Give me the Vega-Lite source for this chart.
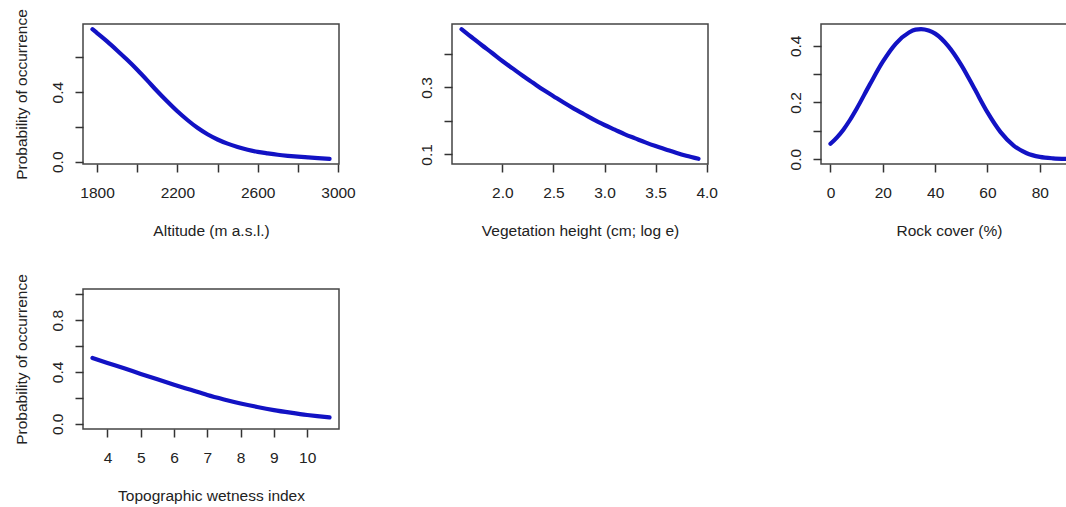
{
  "$schema": "https://vega.github.io/schema/vega-lite/v6.json",
  "background": "white",
  "padding": {"left": 13, "top": 7, "right": 0, "bottom": 0},
  "bounds": "flush",
  "columns": 3,
  "spacing": {"row": 125, "column": 113},
  "config": {
    "font": "Liberation Sans",
    "view": {"stroke": "#444444", "strokeWidth": 1.5},
    "axis": {
      "domain": false,
      "grid": false,
      "ticks": true,
      "tickSize": 8,
      "tickWidth": 1.5,
      "tickColor": "#333333",
      "labelFont": "Liberation Sans",
      "labelFontSize": 15.5,
      "labelColor": "#222222",
      "labelFlush": false,
      "labelOverlap": false,
      "titleFont": "Liberation Sans",
      "titleFontSize": 15.5,
      "titleFontWeight": "normal",
      "titleColor": "#222222"
    },
    "axisX": {"labelPadding": 13, "titlePadding": 23},
    "axisY": {"labelAngle": -90, "labelAlign": "center", "labelBaseline": "bottom", "labelPadding": 10, "titlePadding": 21},
    "line": {"color": "#1212c4", "strokeWidth": 4.2, "strokeCap": "round", "strokeJoin": "round", "interpolate": "monotone"}
  },
  "datasets": {
    "altitude": [
      {"x": 1777, "p": 0.762}, {"x": 1800, "p": 0.740}, {"x": 1850, "p": 0.692},
      {"x": 1900, "p": 0.640}, {"x": 1950, "p": 0.586}, {"x": 2000, "p": 0.529},
      {"x": 2050, "p": 0.468}, {"x": 2100, "p": 0.405}, {"x": 2150, "p": 0.346},
      {"x": 2200, "p": 0.290}, {"x": 2250, "p": 0.240}, {"x": 2300, "p": 0.195},
      {"x": 2350, "p": 0.158}, {"x": 2400, "p": 0.128}, {"x": 2450, "p": 0.104},
      {"x": 2500, "p": 0.085}, {"x": 2550, "p": 0.069}, {"x": 2600, "p": 0.057},
      {"x": 2650, "p": 0.048}, {"x": 2700, "p": 0.040}, {"x": 2750, "p": 0.034},
      {"x": 2800, "p": 0.029}, {"x": 2850, "p": 0.025}, {"x": 2900, "p": 0.021},
      {"x": 2958, "p": 0.017}
    ],
    "vegetation": [
      {"x": 1.6, "p": 0.474}, {"x": 1.7, "p": 0.450}, {"x": 1.8, "p": 0.426},
      {"x": 1.9, "p": 0.403}, {"x": 2.0, "p": 0.379}, {"x": 2.1, "p": 0.357},
      {"x": 2.2, "p": 0.335}, {"x": 2.3, "p": 0.314}, {"x": 2.4, "p": 0.293},
      {"x": 2.5, "p": 0.274}, {"x": 2.6, "p": 0.255}, {"x": 2.7, "p": 0.237},
      {"x": 2.8, "p": 0.220}, {"x": 2.9, "p": 0.203}, {"x": 3.0, "p": 0.188},
      {"x": 3.1, "p": 0.174}, {"x": 3.2, "p": 0.160}, {"x": 3.3, "p": 0.148},
      {"x": 3.4, "p": 0.136}, {"x": 3.5, "p": 0.125}, {"x": 3.6, "p": 0.115},
      {"x": 3.7, "p": 0.105}, {"x": 3.8, "p": 0.096}, {"x": 3.92, "p": 0.087}
    ],
    "rock": [
      {"x": 0, "p": 0.054}, {"x": 2.5, "p": 0.077}, {"x": 5, "p": 0.105},
      {"x": 7.5, "p": 0.139}, {"x": 10, "p": 0.178}, {"x": 15, "p": 0.263},
      {"x": 20, "p": 0.344}, {"x": 25, "p": 0.408}, {"x": 30, "p": 0.447},
      {"x": 32.5, "p": 0.457}, {"x": 34.6, "p": 0.459}, {"x": 37.5, "p": 0.454},
      {"x": 40, "p": 0.443}, {"x": 45, "p": 0.399}, {"x": 50, "p": 0.332},
      {"x": 55, "p": 0.249}, {"x": 60, "p": 0.165}, {"x": 65, "p": 0.0955},
      {"x": 70, "p": 0.048}, {"x": 75, "p": 0.0209}, {"x": 80, "p": 0.0081},
      {"x": 85, "p": 0.0028}, {"x": 90.6, "p": 0.0007}
    ],
    "wetness": [
      {"x": 3.55, "p": 0.508}, {"x": 4.0, "p": 0.470}, {"x": 4.5, "p": 0.428},
      {"x": 5.0, "p": 0.385}, {"x": 5.5, "p": 0.343}, {"x": 6.0, "p": 0.302},
      {"x": 6.5, "p": 0.262}, {"x": 7.0, "p": 0.222}, {"x": 7.5, "p": 0.188},
      {"x": 8.0, "p": 0.157}, {"x": 8.5, "p": 0.130}, {"x": 9.0, "p": 0.106},
      {"x": 9.5, "p": 0.086}, {"x": 10.0, "p": 0.068}, {"x": 10.3, "p": 0.059},
      {"x": 10.67, "p": 0.049}
    ]
  },
  "concat": [
    {
      "data": {"name": "altitude"},
      "width": 256,
      "height": 140,
      "mark": "line",
      "encoding": {
        "x": {
          "field": "x", "type": "quantitative",
          "scale": {"domain": [1730, 3005], "nice": false, "zero": false},
          "axis": {"title": "Altitude (m a.s.l.)", "values": [1800, 2000, 2200, 2400, 2600, 2800, 3000], "format": "d",
                   "labelExpr": "datum.value % 400 == 200 ? datum.label : ''"}
        },
        "y": {
          "field": "p", "type": "quantitative",
          "scale": {"domain": [-0.013, 0.792], "nice": false, "zero": false},
          "axis": {"title": "Probability of occurrence", "values": [0, 0.2, 0.4, 0.6], "format": ".1f",
                   "labelExpr": "datum.value == 0 || datum.value == 0.4 ? datum.label : ''"}
        }
      }
    },
    {
      "data": {"name": "vegetation"},
      "width": 256,
      "height": 140,
      "mark": "line",
      "encoding": {
        "x": {
          "field": "x", "type": "quantitative",
          "scale": {"domain": [1.507, 4.013], "nice": false, "zero": false},
          "axis": {"title": "Vegetation height (cm; log e)", "values": [2.0, 2.5, 3.0, 3.5, 4.0], "format": ".1f"}
        },
        "y": {
          "field": "p", "type": "quantitative",
          "scale": {"domain": [0.0715, 0.4895], "nice": false, "zero": false},
          "axis": {"title": null, "values": [0.1, 0.2, 0.3, 0.4], "format": ".1f",
                   "labelExpr": "datum.value == 0.1 || datum.value == 0.3 ? datum.label : ''"}
        }
      }
    },
    {
      "data": {"name": "rock"},
      "width": 256,
      "height": 140,
      "mark": "line",
      "encoding": {
        "x": {
          "field": "x", "type": "quantitative",
          "scale": {"domain": [-3.62, 94.2], "nice": false, "zero": false},
          "axis": {"title": "Rock cover (%)", "values": [0, 20, 40, 60, 80], "format": "d"}
        },
        "y": {
          "field": "p", "type": "quantitative",
          "scale": {"domain": [-0.0172, 0.477], "nice": false, "zero": false},
          "axis": {"title": null, "values": [0, 0.1, 0.2, 0.3, 0.4], "format": ".1f",
                   "labelExpr": "datum.value == 0 || datum.value == 0.2 || datum.value == 0.4 ? datum.label : ''"}
        }
      }
    },
    {
      "data": {"name": "wetness"},
      "width": 256,
      "height": 140,
      "mark": "line",
      "encoding": {
        "x": {
          "field": "x", "type": "quantitative",
          "scale": {"domain": [3.265, 10.955], "nice": false, "zero": false},
          "axis": {"title": "Topographic wetness index", "values": [4, 5, 6, 7, 8, 9, 10], "format": "d"}
        },
        "y": {
          "field": "p", "type": "quantitative",
          "scale": {"domain": [-0.04, 1.04], "nice": false, "zero": false},
          "axis": {"title": "Probability of occurrence", "values": [0, 0.2, 0.4, 0.6, 0.8, 1.0], "format": ".1f",
                   "labelExpr": "datum.value == 0 || datum.value == 0.4 || datum.value == 0.8 ? datum.label : ''"}
        }
      }
    }
  ]
}
